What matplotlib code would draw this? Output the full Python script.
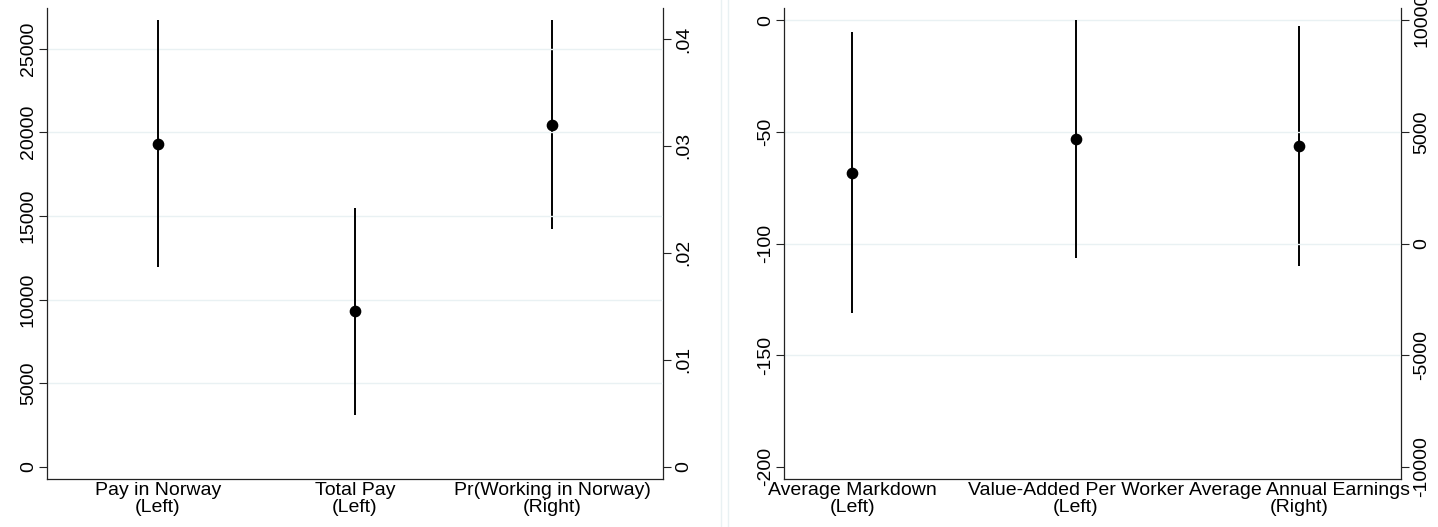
import matplotlib
matplotlib.use("Agg")
import matplotlib.pyplot as plt
from matplotlib.lines import Line2D

plt.rcParams['font.family'] = ['Liberation Sans', 'DejaVu Sans']

# ---------------- data ----------------
left_labels = ["Pay in Norway\n(Left)", "Total Pay\n(Left)", "Pr(Working in Norway)\n(Right)"]
left_axis_side = ["left", "left", "right"]
left_est = [19318, 9294, 0.03199]
left_lo = [11944, 3100, 0.02220]
left_hi = [26699, 15473, 0.04175]
left_yticks_l = [0, 5000, 10000, 15000, 20000, 25000]
left_yticks_r = [0, 0.01, 0.02, 0.03, 0.04]
left_yticklabels_r = ["0", ".01", ".02", ".03", ".04"]

right_labels = ["Average Markdown\n(Left)", "Value-Added Per Worker\n(Left)", "Average Annual Earnings\n(Right)"]
right_axis_side = ["left", "left", "right"]
right_est = [-68.2, -53.1, 4370]
right_lo = [-131.3, -106.5, -1010]
right_hi = [-5.2, 0.0, 9730]
right_yticks_l = [-200, -150, -100, -50, 0]
right_yticks_r = [-10000, -5000, 0, 5000, 10000]

# ---------------- style ----------------
W, H = 1438, 527
FS = 14
GRID = "#e9f1f3"
SPINE = "#222222"
fig = plt.figure(figsize=(W / 100, H / 100), dpi=100)
fig.patch.set_facecolor("white")


def fx(px):
    return px / W


def fy(py):
    return 1 - py / H


def panel(x0, x1, labels, sides, est, lo, hi, tl, tr, trl, ylim_l, ylim_r, xlim, grid_vals):
    ax = fig.add_axes([fx(x0), fy(479), fx(x1) - fx(x0), fy(8) - fy(479)])
    ax2 = ax.twinx()
    ax.set_zorder(ax2.get_zorder() + 1)
    ax.patch.set_visible(False)
    ax.set_ylim(*ylim_l)
    ax2.set_ylim(*ylim_r)
    ax.set_xlim(*xlim)
    for g in grid_vals:
        ax.axhline(g, color=GRID, lw=1.0, zorder=0)
    xs = list(range(1, len(labels) + 1))
    for x, s, e, l, h in zip(xs, sides, est, lo, hi):
        a = ax if s == "left" else ax2
        a.plot([x, x], [l, h], color="black", lw=1.4, solid_capstyle="butt", zorder=3)
        a.plot([x], [e], "o", color="black", ms=7.4, zorder=4)
    ax.set_xticks(xs)
    ax.set_xticklabels(labels, fontsize=FS, linespacing=1.0)
    ax.tick_params(axis="x", length=0, pad=2)
    ax.set_yticks(tl)
    ax.set_yticklabels([str(v) for v in tl], rotation=90, va="center", fontsize=FS)
    ax.tick_params(axis="y", length=5.8, width=0.8, color=SPINE, pad=1.5)
    ax2.set_yticks(tr)
    ax2.set_yticklabels(trl, rotation=90, va="center", fontsize=FS)
    ax2.tick_params(axis="y", length=5.8, width=0.8, color=SPINE, pad=3)
    for a in (ax, ax2):
        a.spines["top"].set_visible(False)
        for sp in ("left", "right", "bottom"):
            a.spines[sp].set_color(SPINE)
            a.spines[sp].set_linewidth(0.9)
    ax2.spines["left"].set_visible(False)
    ax2.spines["bottom"].set_visible(False)
    ax.spines["right"].set_visible(False)
    return ax, ax2


# left panel
pxu_l = 418.0 / 25000
pxu_r = 427.7 / 0.04
panel(47, 663.3, left_labels, left_axis_side, left_est, left_lo, left_hi,
      left_yticks_l, left_yticks_r, left_yticklabels_r,
      (-(479 - 466.7) / pxu_l, (466.7 - 8) / pxu_l),
      (-(479 - 466.7) / pxu_r, (466.7 - 8) / pxu_r),
      (0.439, 3.562), left_yticks_l[1:])

# right panel
pu = 446.4 / 200
panel(784.3, 1401, right_labels, right_axis_side, right_est, right_lo, right_hi,
      right_yticks_l, right_yticks_r, [str(v) for v in right_yticks_r],
      (-200 - (479 - 466.7) / pu, (20.3 - 8) / pu),
      ((-200 - (479 - 466.7) / pu + 100) * 100, ((20.3 - 8) / pu + 100) * 100),
      (0.696, 3.454), right_yticks_l[1:])

# graph-region borders between the panels
for px in (720.5, 727.5):
    fig.add_artist(Line2D([fx(px), fx(px)], [0, 1], color=GRID, lw=1.0, transform=fig.transFigure))

fig.savefig("out.png", dpi=100)
